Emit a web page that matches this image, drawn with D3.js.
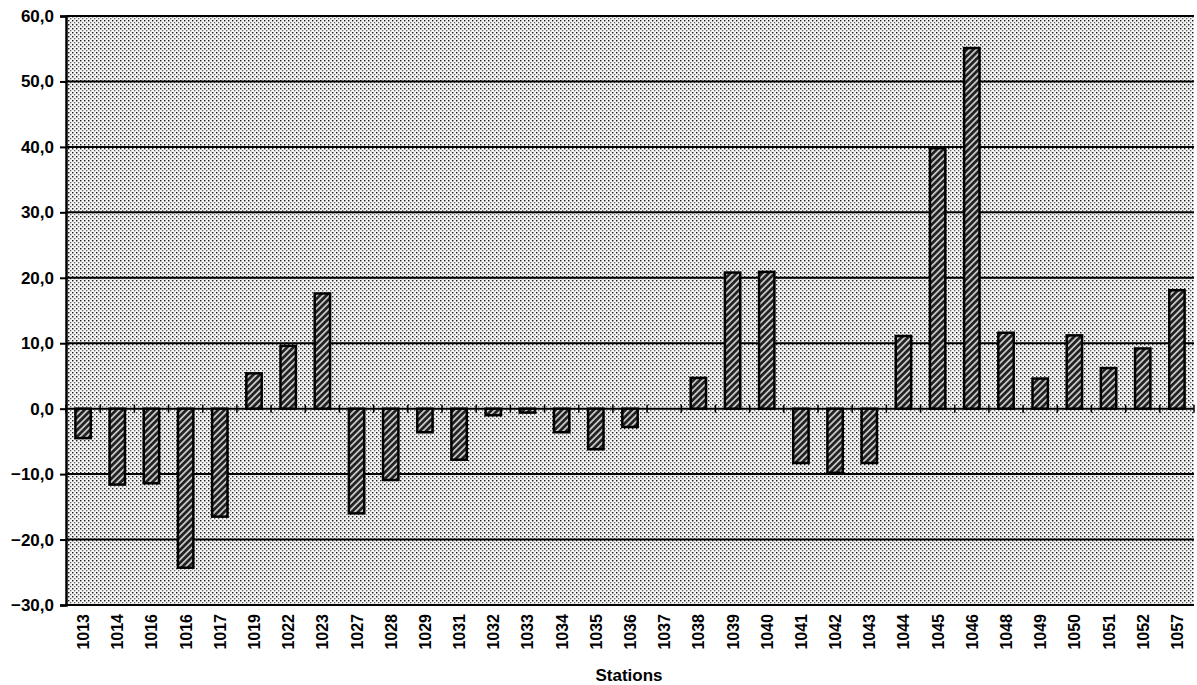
<!DOCTYPE html>
<html><head><meta charset="utf-8">
<script src="https://cdn.jsdelivr.net/npm/d3@7"></script>
<style>body{margin:0;background:#fff}svg{display:block}text{font-family:"Liberation Sans",Arial,sans-serif}</style>
</head><body><svg id="c" width="1197" height="685"></svg>
<script>
const stations = ["1013","1014","1016","1016","1017","1019","1022","1023","1027","1028","1029","1031","1032","1033","1034","1035","1036","1037","1038","1039","1040","1041","1042","1043","1044","1045","1046","1048","1049","1050","1051","1052","1057"];
const values = [-4.5,-11.6,-11.4,-24.3,-16.5,5.4,9.6,17.6,-16.0,-10.9,-3.6,-7.8,-1.0,-0.6,-3.6,-6.2,-2.8,0,4.7,20.8,20.9,-8.3,-9.8,-8.3,11.1,39.8,55.1,11.6,4.6,11.2,6.2,9.2,18.1];
const yTicks = [-30,-20,-10,0,10,20,30,40,50,60];
const xTitle = "Stations";

const svg = d3.select("#c");
const m = {l:66, r:1194, t:16, b:605};
const x = d3.scaleBand().domain(d3.range(stations.length)).range([m.l, m.r]).paddingInner(0.55).paddingOuter(0.275);
const y = d3.scaleLinear().domain([-30,60]).range([m.b, m.t]);

const defs = svg.append("defs");
const bg = defs.append("pattern").attr("id","stip").attr("patternUnits","userSpaceOnUse").attr("width",4).attr("height",4);
bg.append("rect").attr("width",4).attr("height",4).attr("fill","#f4f4f4");
bg.append("rect").attr("x",0).attr("y",0).attr("width",1.4).attr("height",1.4).attr("fill","#1a1a1a");
bg.append("rect").attr("x",2).attr("y",2).attr("width",1.3).attr("height",1.3).attr("fill","#666");
const hp = defs.append("pattern").attr("id","hatch").attr("patternUnits","userSpaceOnUse").attr("width",4.5).attr("height",4.5).attr("patternTransform","rotate(45)");
hp.append("rect").attr("width",4.5).attr("height",4.5).attr("fill","#222");
hp.append("rect").attr("x",0).attr("width",1.8).attr("height",4.5).attr("fill","#c4c4c4");

svg.append("rect").attr("x",m.l).attr("y",m.t).attr("width",m.r-m.l).attr("height",m.b-m.t).attr("fill","url(#stip)");

// gridlines
svg.append("g").selectAll("line").data(yTicks).join("line")
  .attr("x1",m.l).attr("x2",m.r).attr("y1",d=>y(d)).attr("y2",d=>y(d))
  .attr("stroke","#000").attr("stroke-width",2);

// bars
svg.append("g").selectAll("rect").data(values).join("rect")
  .attr("x",(d,i)=>x(i)).attr("width",x.bandwidth())
  .attr("y",d=>y(Math.max(0,d))).attr("height",d=>Math.abs(y(d)-y(0)))
  .attr("fill","url(#hatch)").attr("stroke","#000").attr("stroke-width",2.5);

// category ticks on zero line
const step = x.step();
svg.append("g").selectAll("line").data(d3.range(stations.length+1)).join("line")
  .attr("x1",i=>m.l+i*step).attr("x2",i=>m.l+i*step)
  .attr("y1",y(0)-4).attr("y2",y(0)+4).attr("stroke","#000").attr("stroke-width",1.5);

// y axis
const ya = svg.append("g").attr("transform",`translate(${m.l},0)`)
  .call(d3.axisLeft(y).tickValues(yTicks).tickSize(6).tickFormat(d=>d3.format(".1f")(d).replace(".",",")));
ya.select(".domain").attr("stroke-width",2.5);
ya.selectAll(".tick line").attr("stroke-width",2);
ya.selectAll("text").attr("font-size",17).attr("font-weight","bold").attr("fill","#000").attr("x",-12);

// x labels
svg.append("g").selectAll("text").data(stations).join("text")
  .attr("transform",(d,i)=>`translate(${x(i)+x.bandwidth()/2+6},614) rotate(-90)`)
  .attr("text-anchor","end").attr("font-size",16).attr("font-weight","bold").text(d=>d);

svg.append("text").attr("x",629).attr("y",681).attr("text-anchor","middle")
  .attr("font-size",17).attr("font-weight","bold").text(xTitle);
</script></body></html>
